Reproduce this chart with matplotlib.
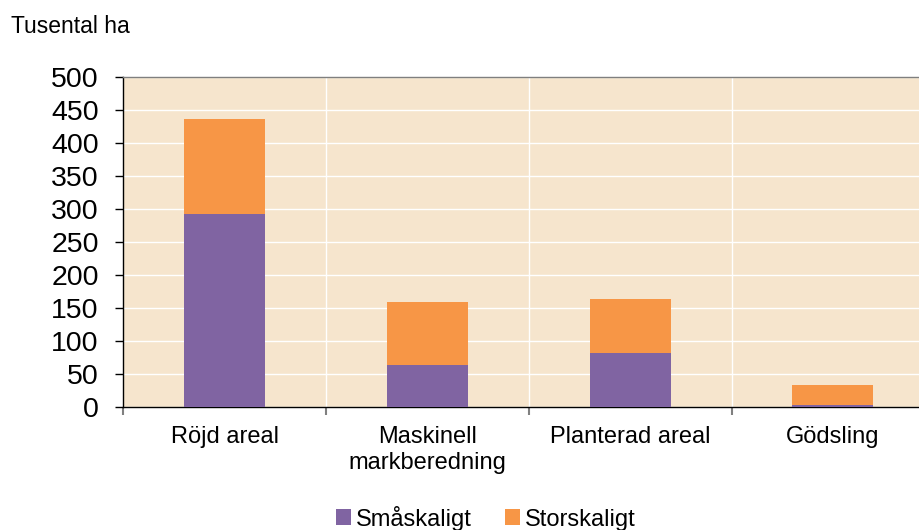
import numpy as np
import matplotlib.pyplot as plt

plt.rcParams['font.family'] = ['Liberation Sans', 'DejaVu Sans']

categories = ['Röjd areal', 'Maskinell\nmarkberedning', 'Planterad areal', 'Gödsling']
smaskaligt = [293, 64, 82, 2.5]
storskaligt = [143, 95, 81, 30.5]

fig = plt.figure(figsize=(9.2, 5.3), dpi=100)
ax = fig.add_axes([0.1342, 0.232, 0.8658, 0.623])
ax.set_facecolor('#F6E5CD')

x = np.arange(len(categories))
w = 0.40
ax.bar(x, smaskaligt, w, color='#8064A2', label='Småskaligt', zorder=3)
ax.bar(x, storskaligt, w, bottom=smaskaligt, color='#F79646', label='Storskaligt', zorder=3)

left, right = -0.5, 3.43
ax.set_xlim(left, right)
ax.set_ylim(0, 500)
ax.set_yticks(range(0, 501, 50))
ax.tick_params(axis='y', labelsize=20.5, length=5.8, width=1, direction='out', pad=12)

ax.set_xticks(x)
ax.set_xticklabels(categories, fontsize=17, linespacing=1.2)
ax.tick_params(axis='x', length=0, pad=14)
ax.set_xticks([left, 0.5, 1.5, 2.5], minor=True)
ax.tick_params(axis='x', which='minor', length=5.8, width=1.5, color='#808080')
ax.xaxis.get_minor_ticks()[0].tick1line.set_color('black')

ax.grid(axis='y', color='white', linewidth=1, zorder=1)
ax.grid(axis='x', which='minor', color='white', linewidth=1, zorder=1)
ax.xaxis.get_minor_ticks()[0].gridline.set_visible(False)
ax.spines['right'].set_visible(False)
ax.spines['top'].set_color('#7F7F7F')
ax.spines['top'].set_linewidth(1)
ax.spines['left'].set_linewidth(1)
ax.spines['bottom'].set_linewidth(1)

fig.text(0.012, 1 - 33 / 530, 'Tusental ha', fontsize=16.5, va='baseline')

fig.legend(loc='center', bbox_to_anchor=(0.528, 0.0226), ncol=2, frameon=False,
           fontsize=17, handlelength=0.64, handleheight=0.64, handletextpad=0.2,
           columnspacing=1.4, borderaxespad=0, borderpad=0)

fig.savefig('out.png', dpi=100)
